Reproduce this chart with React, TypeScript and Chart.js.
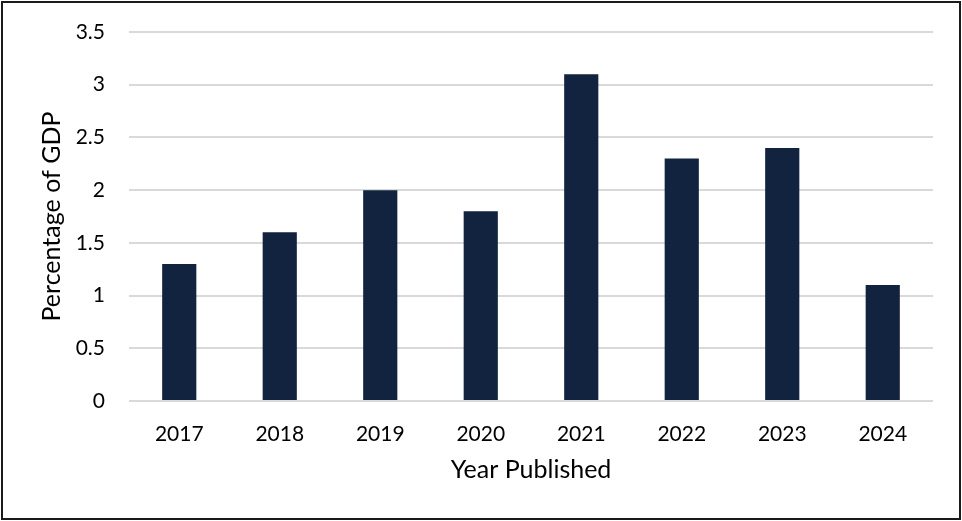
import React, { useEffect, useRef } from "react";
import { Chart, registerables } from "chart.js";

Chart.register(...registerables);

const years = ["2017", "2018", "2019", "2020", "2021", "2022", "2023", "2024"];
const gdpShare = [1.3, 1.6, 2.0, 1.8, 3.1, 2.3, 2.4, 1.1];
const yMin = 0;
const yMax = 3.5;
const yStep = 0.5;
const xTitle = "Year Published";
const yTitle = "Percentage of GDP";

const FONT = "Lato, 'Open Sans', sans-serif";

export default function App() {
  const ref = useRef<HTMLCanvasElement | null>(null);

  useEffect(() => {
    document.body.style.margin = "0";
    const canvas = ref.current;
    if (!canvas) return;
    const chart = new Chart(canvas, {
      type: "bar",
      data: {
        labels: years,
        datasets: [
          {
            data: gdpShare,
            backgroundColor: "#11233f",
            barPercentage: 0.34,
            categoryPercentage: 1,
          },
        ],
      },
      options: {
        animation: false,
        responsive: false,
        maintainAspectRatio: false,
        layout: { padding: { top: 32, right: 29, left: 0, bottom: 0 } },
        plugins: { legend: { display: false }, tooltip: { enabled: false } },
        scales: {
          x: {
            grid: { display: false },
            border: { display: false },
            ticks: {
              color: "#000",
              font: { family: FONT, size: 21 },
              padding: 13,
              maxRotation: 0,
            },
            title: {
              display: true,
              text: xTitle,
              color: "#000",
              font: { family: FONT, size: 25 },
              padding: { top: 0, bottom: 36 },
            },
            afterFit: (s: any) => {
              s.height = 120;
              s.paddingLeft = 0;
              s.paddingRight = 0;
            },
          },
          y: {
            min: yMin,
            max: yMax,
            grid: { color: "#d9d9d9", lineWidth: 2, drawTicks: false },
            border: { display: false },
            ticks: {
              stepSize: yStep,
              color: "#000",
              font: { family: FONT, size: 21 },
              padding: 24,
              callback: (v: any) => String(Number(v)),
            },
            title: {
              display: true,
              text: yTitle,
              color: "#000",
              font: { family: FONT, size: 25 },
              padding: { top: 37, bottom: 0 },
            },
            afterFit: (s: any) => {
              s.width = 129;
              s.paddingTop = 0;
              s.paddingBottom = 0;
            },
          },
        },
      },
    });
    return () => chart.destroy();
  }, []);

  return (
    <div style={{ position: "relative", width: 962, height: 521, background: "#fff" }}>
      <canvas ref={ref} width={962} height={521} style={{ display: "block", width: 962, height: 521 }} />
      <div
        style={{
          position: "absolute",
          left: 1,
          top: 1,
          width: 960,
          height: 519,
          border: "2px solid #1a1a1a",
          boxSizing: "border-box",
          pointerEvents: "none",
        }}
      />
    </div>
  );
}
